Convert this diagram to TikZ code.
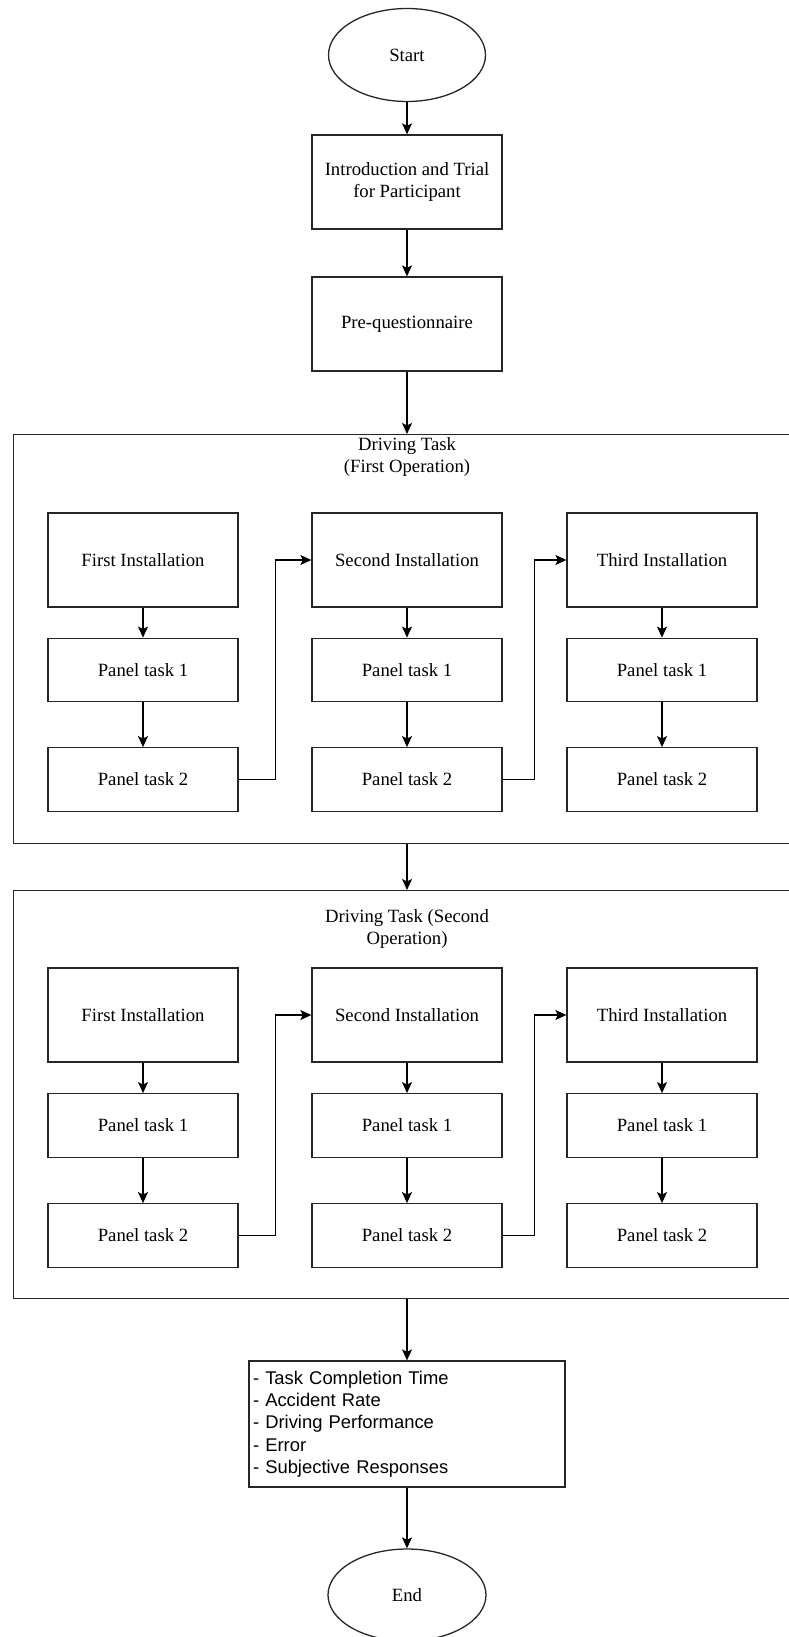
\documentclass[tikz,border=0pt]{standalone}
\usepackage{fontspec}
\setmainfont{Liberation Serif}
\newfontfamily\listfont{Liberation Sans}
\usetikzlibrary{shapes.geometric,arrows.meta}

\begin{document}
\begin{tikzpicture}[x=1pt,y=-1pt,
  every node/.style={font=\fontsize{18.7}{22.6}\selectfont},
  box/.style={draw=black!85,line width=1.3pt,rectangle,minimum width=190pt,align=center,inner sep=2pt},
  bigbox/.style={box,minimum height=94pt},
  panelbox/.style={box,minimum height=63.5pt},
  oval/.style={draw=black!85,line width=1.3pt,ellipse,minimum width=157pt,minimum height=93pt,inner sep=0pt},
  frame/.style={draw=black!85,line width=1.3pt,rectangle,anchor=north west,minimum width=797pt,inner sep=0pt},
  arr/.style={draw=black,line width=1.3pt,-{Stealth[length=11pt,width=10pt,inset=2.5pt]}},
  link/.style={arr,rounded corners=0pt}]

\useasboundingbox (0,0) rectangle (789,1637);

% top of the flow
\node[oval] (start) at (407,55) {Start};
\node[bigbox] (intro) at (407,182) {Introduction and Trial\\for Participant};
\node[bigbox] (preq) at (407,324) {Pre-questionnaire};

% first operation
\node[frame,minimum height=409pt] (op1) at (13,434) {};
\node[align=center] (t1) at (407,457) {Driving Task\\(First Operation)};
\node[bigbox] (a0) at (143,560) {First Installation};
\node[panelbox] (a1) at (143,670) {Panel task 1};
\node[panelbox] (a2) at (143,779.5) {Panel task 2};
\node[bigbox] (b0) at (407,560) {Second Installation};
\node[panelbox] (b1) at (407,670) {Panel task 1};
\node[panelbox] (b2) at (407,779.5) {Panel task 2};
\node[bigbox] (c0) at (662,560) {Third Installation};
\node[panelbox] (c1) at (662,670) {Panel task 1};
\node[panelbox] (c2) at (662,779.5) {Panel task 2};

% second operation
\node[frame,minimum height=408pt] (op2) at (13,890) {};
\node[align=center] (t2) at (407,929) {Driving Task (Second\\Operation)};
\node[bigbox] (d0) at (143,1015) {First Installation};
\node[panelbox] (d1) at (143,1125.5) {Panel task 1};
\node[panelbox] (d2) at (143,1235.5) {Panel task 2};
\node[bigbox] (e0) at (407,1015) {Second Installation};
\node[panelbox] (e1) at (407,1125.5) {Panel task 1};
\node[panelbox] (e2) at (407,1235.5) {Panel task 2};
\node[bigbox] (f0) at (662,1015) {Third Installation};
\node[panelbox] (f1) at (662,1125.5) {Panel task 1};
\node[panelbox] (f2) at (662,1235.5) {Panel task 2};

% measures and end
\node[draw=black!85,line width=1.3pt,rectangle,minimum width=316pt,minimum height=126pt,
      text width=308pt,inner xsep=4pt,align=left,
      font=\listfont\fontsize{18.4}{22.3}\selectfont] (res) at (407,1424)
  {- Task Completion Time\\- Accident Rate\\- Driving Performance\\- Error\\- Subjective Responses};
\node[oval,minimum width=158pt,minimum height=92pt] (end) at (407,1595) {End};

% main flow
\draw[arr] (start) -- (intro);
\draw[arr] (intro) -- (preq);
\draw[arr] (preq.south) -- (preq.south |- op1.north);
\draw[arr] (preq.south |- op1.south) -- (preq.south |- op2.north);
\draw[arr] (preq.south |- op2.south) -- (res.north);
\draw[arr] (res) -- (end);

% within each operation
\foreach \p in {a,b,c,d,e,f}{
  \draw[arr] (\p0) -- (\p1);
  \draw[arr] (\p1) -- (\p2);
}
\draw[link] (a2.east) -- ([xshift=37pt]a2.east) |- (b0.west);
\draw[link] (b2.east) -- ([xshift=32pt]b2.east) |- (c0.west);
\draw[link] (d2.east) -- ([xshift=37pt]d2.east) |- (e0.west);
\draw[link] (e2.east) -- ([xshift=32pt]e2.east) |- (f0.west);
\end{tikzpicture}
\end{document}
